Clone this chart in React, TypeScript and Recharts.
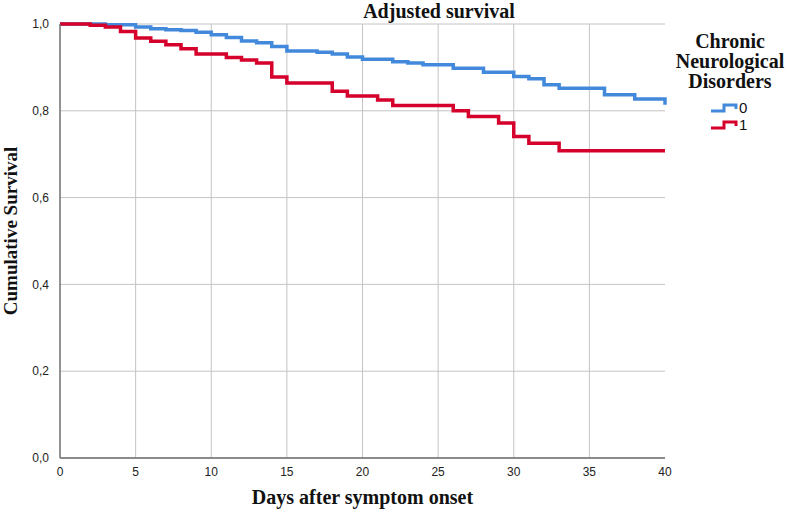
import React from "react";
import { CartesianGrid, Label, Line, LineChart, ReferenceLine, XAxis, YAxis } from "recharts";

// Kaplan-Meier style step values
const DAYS_GROUP0 = [0, 3, 5, 6, 7, 8, 9, 10, 11, 12, 13, 14, 15, 17, 18, 19, 20, 22, 23, 24, 26, 28, 30, 31, 32, 33, 36, 38, 40];
const SURV_GROUP0 = [1.0, 0.998, 0.993, 0.989, 0.987, 0.985, 0.981, 0.975, 0.969, 0.961, 0.957, 0.948, 0.938, 0.935, 0.931, 0.924, 0.919, 0.913, 0.91, 0.906, 0.898, 0.889, 0.879, 0.874, 0.86, 0.852, 0.837, 0.827, 0.814];

const DAYS_GROUP1 = [0, 2, 3, 4, 5, 6, 7, 8, 9, 11, 12, 13, 14, 15, 18, 19, 21, 22, 26, 27, 29, 30, 31, 33, 40];
const SURV_GROUP1 = [1.0, 0.997, 0.993, 0.983, 0.968, 0.96, 0.952, 0.943, 0.931, 0.923, 0.917, 0.91, 0.878, 0.864, 0.845, 0.834, 0.825, 0.812, 0.8, 0.787, 0.772, 0.741, 0.725, 0.708, 0.708];

const X_TICKS = [0, 5, 10, 15, 20, 25, 30, 35, 40];
const Y_TICKS = [0, 0.2, 0.4, 0.6, 0.8, 1.0];

const GROUPS = [
  { key: "0", color: "#4289dc", days: DAYS_GROUP0, values: SURV_GROUP0 },
  { key: "1", color: "#d5002b", days: DAYS_GROUP1, values: SURV_GROUP1 },
];

const SERIF = "'Liberation Serif', 'DejaVu Serif', serif";
const SANS = "'Liberation Sans', Arial, sans-serif";

function toRows(days: number[], values: number[]) {
  return days.map((day, i) => ({ day, surv: values[i] }));
}

function StepIcon({ color }: { color: string }) {
  return (
    <svg width={28} height={12} style={{ display: "block" }}>
      <path d="M1,9 H14 V3 H26 V7" fill="none" stroke={color} strokeWidth={3} />
    </svg>
  );
}

function LegendBox() {
  return (
    <div style={{ position: "absolute", left: 668, top: 31, width: 124, fontFamily: SERIF, color: "#111" }}>
      <div style={{ fontWeight: "bold", fontSize: 20, lineHeight: "20px", textAlign: "center" }}>
        Chronic
        <br />
        Neurological
        <br />
        Disorders
      </div>
      <div style={{ marginTop: 8, marginLeft: 42 }}>
        {GROUPS.map((g) => (
          <div key={g.key} style={{ display: "flex", alignItems: "center", height: 17 }}>
            <StepIcon color={g.color} />
            <span style={{ fontFamily: SANS, fontSize: 15, marginLeft: 1 }}>{g.key}</span>
          </div>
        ))}
      </div>
    </div>
  );
}

export default function App() {
  return (
    <div style={{ position: "absolute", left: 0, top: 0, width: 788, height: 513, background: "#fff" }}>
      <LineChart width={788} height={513} margin={{ top: 24, right: 123, bottom: 0, left: 0 }}>
        <CartesianGrid stroke="#c4c4c4" strokeWidth={1} vertical={false} />
        {X_TICKS.filter((t) => t > 0 && t < 40).map((t) => (
          <ReferenceLine key={t} x={t} stroke="#c4c4c4" strokeWidth={1} />
        ))}
        <XAxis
          type="number"
          dataKey="day"
          domain={[0, 40]}
          ticks={X_TICKS}
          allowDuplicatedCategory={false}
          height={55}
          tickLine={false}
          tickMargin={3}
          stroke="#6e6e6e"
          strokeWidth={1.5}
          tick={{ fill: "#222", fontSize: 12, fontFamily: SANS }}
        >
          <Label
            value="Days after symptom onset"
            position="insideBottom"
            offset={9}
            style={{ fontFamily: SERIF, fontWeight: "bold", fontSize: 20, fill: "#111" }}
          />
        </XAxis>
        <YAxis
          type="number"
          domain={[0, 1]}
          ticks={Y_TICKS}
          width={60}
          tickLine={false}
          tickMargin={5}
          stroke="#6e6e6e"
          strokeWidth={1.5}
          tickFormatter={(v: number) => v.toFixed(1).replace(".", ",")}
          tick={{ fill: "#222", fontSize: 12, fontFamily: SANS }}
        >
          <Label
            content={() => (
              <text
                x={17}
                y={231}
                transform="rotate(-90 17 231)"
                textAnchor="middle"
                style={{ fontFamily: SERIF, fontWeight: "bold", fontSize: 19, fill: "#111" }}
              >
                Cumulative Survival
              </text>
            )}
          />
        </YAxis>
        {GROUPS.map((g) => (
          <Line
            key={g.key}
            name={g.key}
            data={toRows(g.days, g.values)}
            dataKey="surv"
            type="stepAfter"
            stroke={g.color}
            strokeWidth={3.5}
            dot={false}
            activeDot={false}
            isAnimationActive={false}
          />
        ))}
      </LineChart>
      <div
        style={{
          position: "absolute",
          left: 439,
          top: 1,
          transform: "translateX(-50%)",
          fontFamily: SERIF,
          fontWeight: "bold",
          fontSize: 20,
          lineHeight: "20px",
          whiteSpace: "nowrap",
          color: "#111",
        }}
      >
        Adjusted survival
      </div>
      <LegendBox />
    </div>
  );
}
